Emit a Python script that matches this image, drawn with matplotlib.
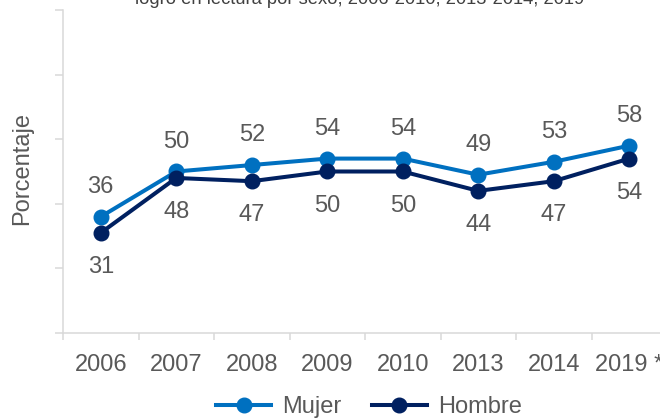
import matplotlib
matplotlib.use("Agg")
import matplotlib.pyplot as plt

# Data
years = ["2006", "2007", "2008", "2009", "2010", "2013", "2014", "2019 *"]
mujer = [36, 50, 52, 54, 54, 49, 53, 58]
hombre = [31, 48, 47, 50, 50, 44, 47, 54]

title = "logro en lectura por sexo, 2006-2010, 2013-2014, 2019"

plt.rcParams["font.family"] = ["Liberation Sans", "DejaVu Sans"]

blue = "#0070C0"
navy = "#002060"
grey_txt = "#595959"
grid_c = "#D9D9D9"

fig = plt.figure(figsize=(6.6, 4.19), dpi=100)
ax = fig.add_axes([63 / 660, 86 / 419, 604 / 660, 323 / 419])

x = list(range(len(years)))
ax.plot(x, mujer, color=blue, lw=2.9, marker="o", ms=10.5, label="Mujer")
ax.plot(x, hombre, color=navy, lw=2.9, marker="o", ms=10.5, label="Hombre")

for i in x:
    ax.annotate(str(mujer[i]), (i, mujer[i]), xytext=(0, 21.5), textcoords="offset points",
                ha="center", va="center", fontsize=17, color=grey_txt)
    ax.annotate(str(hombre[i]), (i, hombre[i]), xytext=(0, -24.5), textcoords="offset points",
                ha="center", va="center", fontsize=17, color=grey_txt)

ax.set_xlim(-0.5, len(years) - 0.5)
ax.set_ylim(0, 100)

ax.set_yticks([0, 20, 40, 60, 80, 100])
ax.set_yticklabels([])
ax.tick_params(axis="y", length=5.8, width=1.1, color=grid_c)

ax.set_xticks(x)
ax.set_xticklabels(years, fontsize=17, color=grey_txt)
ax.set_xticks([i - 0.5 for i in range(len(years) + 1)], minor=True)
ax.tick_params(axis="x", which="major", length=0, pad=15)
ax.tick_params(axis="x", which="minor", length=5, width=1.1, color=grid_c)

for s in ["top", "right"]:
    ax.spines[s].set_visible(False)
for s in ["left", "bottom"]:
    ax.spines[s].set_color(grid_c)
    ax.spines[s].set_linewidth(1.1)

ax.set_ylabel("Porcentaje", fontsize=17, color=grey_txt)
ax.yaxis.set_label_coords(-30 / 604, 0.51)

fig.text(360 / 660, 1 - 4 / 419, title, ha="center", va="baseline", fontsize=13.2, color="#404040")

fig.legend(loc="center", bbox_to_anchor=(369 / 660, 1 - 407 / 419), ncol=2, frameon=False,
           fontsize=17, handlelength=2.33, handletextpad=0.47, columnspacing=1.27,
           labelcolor=grey_txt)

fig.savefig("out.png", dpi=100)
